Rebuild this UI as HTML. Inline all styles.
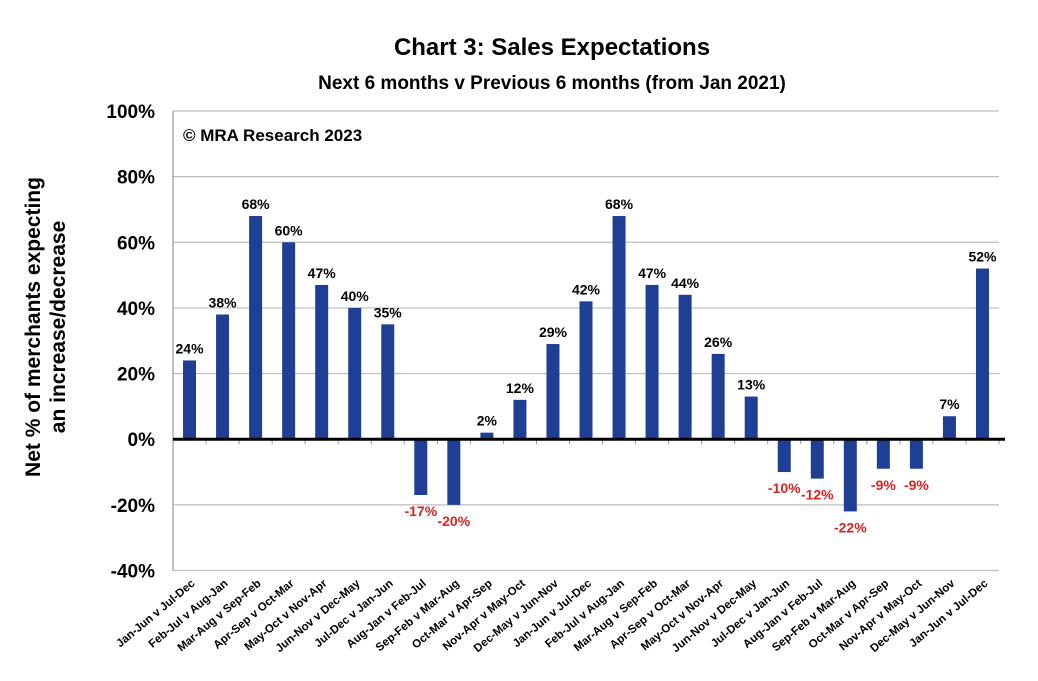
<!DOCTYPE html>
<html><head><meta charset="utf-8"><style>
body{margin:0;background:#fff;}
svg text{font-family:"Liberation Sans",Arial,sans-serif;font-weight:bold;}
</style></head><body>
<svg id="chart" width="1038" height="676" viewBox="0 0 1038 676" xmlns="http://www.w3.org/2000/svg">
<text x="552" y="55" text-anchor="middle" font-size="24">Chart 3: Sales Expectations</text>
<text x="552" y="89" text-anchor="middle" font-size="19">Next 6 months v Previous 6 months (from Jan 2021)</text>
<text x="183" y="141" font-size="17">© MRA Research 2023</text>
<g transform="translate(40,327) rotate(-90)">
<text x="0" y="0" text-anchor="middle" font-size="21">Net % of merchants expecting</text>
<text x="0" y="25" text-anchor="middle" font-size="21">an increase/decrease</text>
</g>
<g id="grid"></g><g id="bars"></g><g id="labels"></g>
</svg>
<script>
const categories=["Jan-Jun v Jul-Dec","Feb-Jul v Aug-Jan","Mar-Aug v Sep-Feb","Apr-Sep v Oct-Mar","May-Oct v Nov-Apr","Jun-Nov v Dec-May","Jul-Dec v Jan-Jun","Aug-Jan v Feb-Jul","Sep-Feb v Mar-Aug","Oct-Mar v Apr-Sep","Nov-Apr v May-Oct","Dec-May v Jun-Nov","Jan-Jun v Jul-Dec","Feb-Jul v Aug-Jan","Mar-Aug v Sep-Feb","Apr-Sep v Oct-Mar","May-Oct v Nov-Apr","Jun-Nov v Dec-May","Jul-Dec v Jan-Jun","Aug-Jan v Feb-Jul","Sep-Feb v Mar-Aug","Oct-Mar v Apr-Sep","Nov-Apr v May-Oct","Dec-May v Jun-Nov","Jan-Jun v Jul-Dec"];
const values=[24,38,68,60,47,40,35,-17,-20,2,12,29,42,68,47,44,26,13,-10,-12,-22,-9,-9,7,52];
const yTicks=[100,80,60,40,20,0,-20,-40];
const NS="http://www.w3.org/2000/svg";
const L=173,R=999,yMin=-40,yMax=100,Y0=570.5,Y1=111;
const bw=(R-L)/categories.length;
const y=v=>Y0-(v-yMin)/(yMax-yMin)*(Y0-Y1);
const xc=i=>L+bw*(i+0.5);
function mk(t,a,p){const e=document.createElementNS(NS,t);for(const k in a)e.setAttribute(k,a[k]);p.appendChild(e);return e;}
const grid=document.getElementById('grid'),bars=document.getElementById('bars'),labels=document.getElementById('labels');
yTicks.forEach(t=>{
 if(t!==0){const g=mk('line',{x1:L,x2:R,y1:y(t),y2:y(t),stroke:'#bdbdbd','stroke-width':1.2},grid);
 
 }
 const tx=mk('text',{x:155,y:y(t)+7,'text-anchor':'end','font-size':19},grid);tx.textContent=t+'%';
 
 
});
const ax=mk('line',{x1:L,x2:L,y1:y(yMax),y2:y(yMin),stroke:'#999','stroke-width':1.2},grid);


values.forEach((v,i)=>{
 const cx=xc(i);
 const r=mk('rect',{x:cx-6.5,y:Math.min(y(v),y(0)),width:13,height:Math.abs(y(v)-y(0)),fill:'#1f3f94'},bars);
 
 
 const tk=mk('line',{x1:L+bw*(i+1),x2:L+bw*(i+1),y1:y(0),y2:y(0)+5,stroke:'#999','stroke-width':1},grid);
 
 
 const lb=mk('text',{x:cx,y:v>=0?y(v)-7:y(v)+21,'text-anchor':'middle','font-size':14,fill:v>=0?'#000':'#e02020'},labels);
 lb.textContent=v+'%';
 
 
 const cl=mk('text',{transform:`translate(${cx+6},${y(yMin)+14}) rotate(-40)`,'text-anchor':'end','font-size':11.5},labels);
 cl.textContent=categories[i];
 
 
});
const z=mk('line',{x1:L,x2:R+6,y1:y(0),y2:y(0),stroke:'#000','stroke-width':3},labels);


</script>
</body></html>
